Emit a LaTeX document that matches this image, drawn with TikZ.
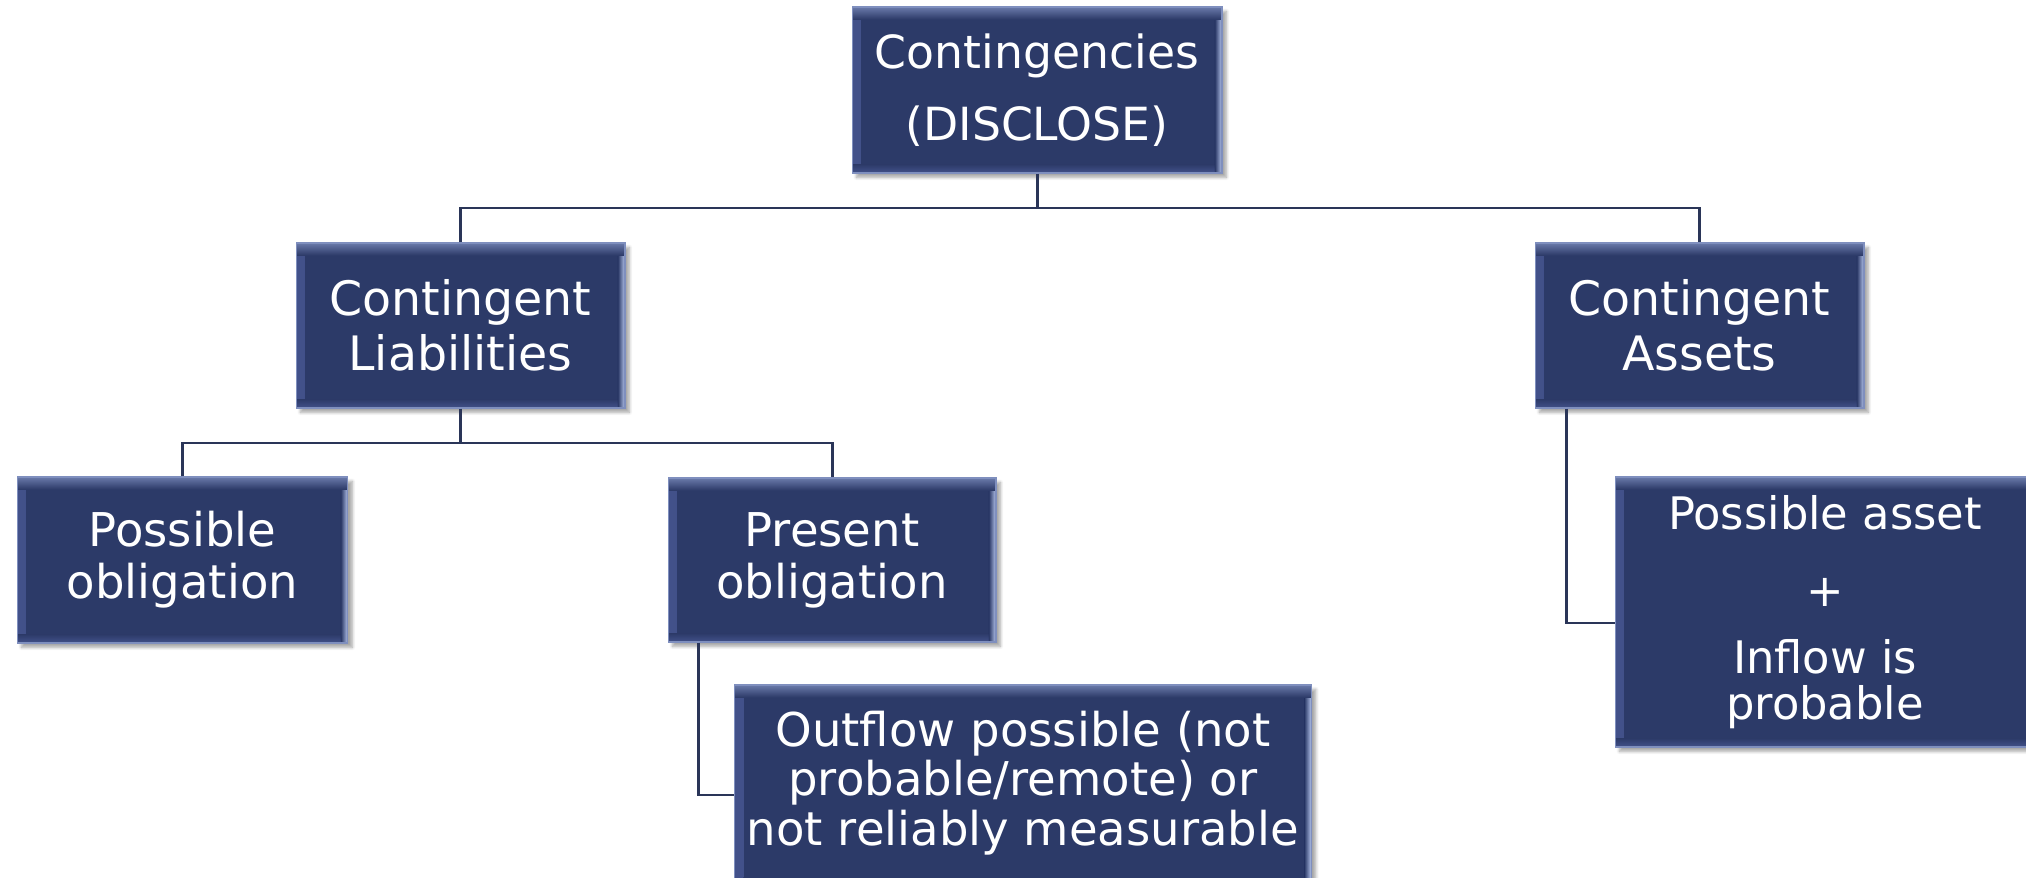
\documentclass[tikz,border=0pt]{standalone}
\usepackage{fontspec}
\newfontfamily\boxfont{DejaVu Sans}
\usetikzlibrary{calc,shadows.blur}

\definecolor{boxfill}{HTML}{2C3A68}
\definecolor{boxedge}{HTML}{7F8FBE}
\definecolor{bevtop}{HTML}{6A7AAA}
\definecolor{bevside}{HTML}{42518A}
\definecolor{bevright}{HTML}{B8C8F0}
\definecolor{linkcol}{HTML}{2A3558}

\tikzset{
  box/.style={
    draw=boxedge, line width=0.6pt, fill=boxfill, text=white,
    align=center, inner sep=0pt,
    blur shadow={shadow xshift=2.5pt, shadow yshift=-2.5pt,
                 shadow blur steps=6, shadow opacity=35},
    path picture={
      % bevelled rim: soft left/bottom, bright right edge, light top band
      \shade[left color=bevside, right color=boxfill]
        (path picture bounding box.north west)
        rectangle ([xshift=5pt]path picture bounding box.south west);
      \shade[bottom color=bevside, top color=boxfill]
        (path picture bounding box.south west)
        rectangle ([yshift=5pt]path picture bounding box.south east);
      \shade[left color=boxfill, right color=bevright]
        ([xshift=-4pt]path picture bounding box.north east)
        rectangle (path picture bounding box.south east);
      \shade[top color=bevtop, bottom color=boxfill]
        (path picture bounding box.north west)
        rectangle ([yshift=-7pt]path picture bounding box.north east);
    }},
  toptext/.style={font=\boxfont\fontsize{26}{41}\selectfont},
  midtext/.style={font=\boxfont\fontsize{27}{31}\selectfont},
  lowtext/.style={font=\boxfont\fontsize{26.5}{29.5}\selectfont},
  outtextstyle/.style={font=\boxfont\fontsize{26.5}{28.3}\selectfont, text=white, align=center},
  assettext/.style={font=\boxfont\fontsize{25.5}{26}\selectfont},
  link/.style={draw=linkcol, line width=1.7pt}
}

\begin{document}
\begin{tikzpicture}[x=0.02cm, y=-0.02cm]
\useasboundingbox (0,0) rectangle (2026,878);

% boxes
\node[box, toptext, minimum width=7.4cm, minimum height=3.32cm] (top) at (1037,90)
  {Contingencies\\(DISCLOSE)};
\node[box, midtext, minimum width=6.58cm, minimum height=3.3cm] (cl) at (460.5,325.5)
  {Contingent\\Liabilities};
\node[box, midtext, minimum width=6.58cm, minimum height=3.3cm] (ca) at (1699.5,325.5)
  {Contingent\\Assets};
\node[box, lowtext, minimum width=6.62cm, minimum height=3.32cm] (po) at (182.5,560)
  {Possible\\obligation};
\node[box, lowtext, minimum width=6.56cm, minimum height=3.28cm] (pr) at (832,560)
  {Present\\obligation};
\node[box, minimum width=11.54cm, minimum height=4.4cm] (out) at (1023,795) {};
\node[outtextstyle] (outtext) at (1023,783)
  {Outflow possible (not\\probable/remote) or\\not reliably measurable};
\node[box, assettext, minimum width=8.4cm, minimum height=5.4cm] (asset) at (1825,612)
  {Possible asset\\[17.6pt]+\\[12.5pt]Inflow is\\probable};

% connectors
\coordinate (j1) at (1037,208);
\coordinate (j2) at (460.5,443);
\draw[link] (top.south) -- (j1);
\draw[link] (cl.north) |- (j1) -| (ca.north);
\draw[link] (cl.south) -- (j2);
\draw[link] (po.north) |- (j2) -| (pr.north);
\draw[link] ($(pr.south west)+(31,0)$) |- (out.west);
\draw[link] ($(ca.south west)+(32,0)$) |- ($(asset.west)+(0,11)$);
\end{tikzpicture}
\end{document}
